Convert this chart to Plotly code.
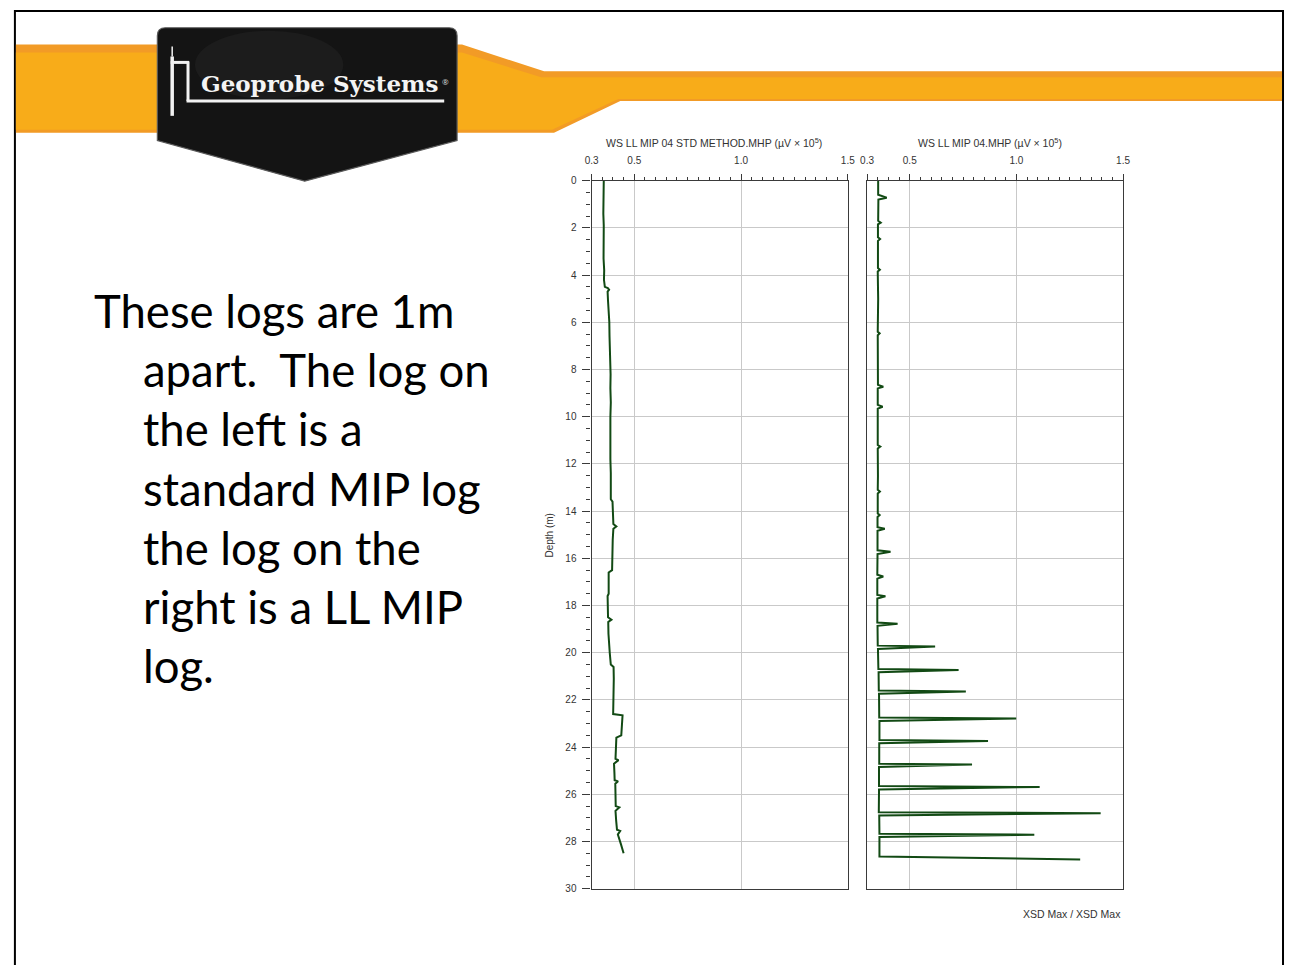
import plotly.graph_objects as go

# ---------------------------------------------------------------------------
# Log data: depth (m) and MIP detector response (µV × 10^5)
# ---------------------------------------------------------------------------
std_depth = [0.0, 0.4, 0.9, 1.4, 1.9, 2.3, 2.8, 3.3, 3.8, 4.2, 4.5, 4.55, 4.62, 4.7,
             5.1, 5.5, 6.0, 6.6, 7.2, 7.6, 8.2, 8.8, 9.4, 10.0, 10.6, 11.2, 11.8,
             12.4, 13.0, 13.5, 13.6, 14.1, 14.55, 14.65, 14.75, 15.2, 15.8, 16.5,
             16.6, 17.1, 17.5, 17.6, 18.1, 18.5, 18.6, 18.7, 19.2, 19.6, 20.0,
             20.5, 20.6, 21.1, 21.6, 22.0, 22.6, 22.65, 23.1, 23.5, 23.6, 24.1,
             24.5, 24.55, 24.7, 25.1, 25.4, 25.45, 25.55, 26.0, 26.5, 26.55,
             26.7, 27.1, 27.5, 27.55, 27.7, 28.1, 28.5]
std_value = [0.357, 0.356, 0.358, 0.355, 0.357, 0.356, 0.358, 0.356, 0.359, 0.358,
             0.362, 0.376, 0.382, 0.375, 0.377, 0.381, 0.383, 0.384, 0.386, 0.388,
             0.389, 0.388, 0.390, 0.388, 0.387, 0.389, 0.388, 0.390, 0.391, 0.390,
             0.398, 0.400, 0.402, 0.416, 0.402, 0.399, 0.397, 0.396, 0.380, 0.381,
             0.380, 0.375, 0.376, 0.377, 0.393, 0.378, 0.379, 0.381, 0.385, 0.390,
             0.403, 0.404, 0.403, 0.401, 0.401, 0.445, 0.442, 0.439, 0.416, 0.414,
             0.412, 0.426, 0.405, 0.407, 0.408, 0.424, 0.411, 0.412, 0.413, 0.430,
             0.412, 0.415, 0.419, 0.434, 0.423, 0.437, 0.450]

ll_depth = [0.0, 0.6, 0.72, 0.8, 1.7, 1.78, 1.85, 2.4, 2.47, 2.55, 3.7, 3.77, 3.85,
            5.0, 6.4, 6.47, 6.55, 7.5, 8.65, 8.73, 8.8, 9.5, 9.58, 9.66, 10.5,
            11.2, 11.27, 11.35, 12.5, 13.1, 13.17, 13.25, 14.1, 14.17, 14.25,
            14.68, 14.75, 14.83, 15.66, 15.72, 15.82, 16.7, 16.77, 16.86, 17.55,
            17.61, 17.7, 18.72, 18.77, 18.86, 19.7, 19.74, 19.84, 20.69, 20.73,
            20.83, 21.6, 21.64, 21.74, 22.75, 22.79, 22.89, 23.7, 23.74, 23.84,
            24.7, 24.74, 24.84, 25.65, 25.69, 25.79, 26.76, 26.8, 26.9, 27.67,
            27.71, 27.81, 28.63, 28.76]
ll_value = [0.352, 0.352, 0.392, 0.353, 0.352, 0.364, 0.351, 0.351, 0.361, 0.351,
            0.351, 0.360, 0.350, 0.352, 0.350, 0.359, 0.350, 0.351, 0.351, 0.376,
            0.350, 0.350, 0.373, 0.350, 0.351, 0.350, 0.362, 0.350, 0.351, 0.350,
            0.360, 0.350, 0.350, 0.359, 0.349, 0.349, 0.383, 0.349, 0.349, 0.410,
            0.349, 0.348, 0.376, 0.348, 0.348, 0.386, 0.348, 0.348, 0.443, 0.349,
            0.350, 0.619, 0.351, 0.353, 0.729, 0.354, 0.355, 0.763, 0.356, 0.357,
            0.999, 0.358, 0.358, 0.867, 0.357, 0.357, 0.792, 0.356, 0.356, 1.109,
            0.356, 0.355, 1.395, 0.357, 0.358, 1.084, 0.358, 0.358, 1.299]

x_ticks = [0.3, 0.5, 1.0, 1.5]
x_tick_text = ["0.3", "0.5", "1.0", "1.5"]
depth_ticks = list(range(0, 31, 2))

left_title = "WS LL MIP 04 STD METHOD.MHP (µV × 10<sup>5</sup>)"
right_title = "WS LL MIP 04.MHP (µV × 10<sup>5</sup>)"

body_lines = ["These logs are 1m", "apart.\u00a0 The log on", "the left is a",
              "standard MIP log", "the log on the", "right is a LL MIP", "log."]

# ---------------------------------------------------------------------------
W, H = 1291, 965


def fx(p):
    return p / W


def fy(p):
    return 1 - p / H


LOG_COLOR = "#124a14"
AXIS_COLOR = "#3a3a3a"
GRID_COLOR = "#c9c9c9"
TICK_FONT = dict(family="Liberation Sans, Arial", size=10, color="#333333")

y_dom = [fy(893), fy(177.5)]

fig = go.Figure()
fig.add_trace(go.Scatter(x=std_value, y=std_depth, mode="lines",
                         line=dict(color=LOG_COLOR, width=2),
                         xaxis="x", yaxis="y", showlegend=False))
fig.add_trace(go.Scatter(x=ll_value, y=ll_depth, mode="lines",
                         line=dict(color=LOG_COLOR, width=2),
                         xaxis="x2", yaxis="y2", showlegend=False))


def x_axis(domain, anchor):
    return dict(domain=domain, anchor=anchor, range=[0.3, 1.5], side="top",
                tickmode="array", tickvals=x_ticks, ticktext=x_tick_text,
                ticks="outside", ticklen=6, tickcolor=AXIS_COLOR, tickwidth=1,
                minor=dict(tick0=0.3, dtick=0.05, ticks="outside", ticklen=3,
                           tickcolor=AXIS_COLOR, showgrid=False),
                showgrid=True, gridcolor=GRID_COLOR, gridwidth=1,
                showline=True, linecolor=AXIS_COLOR, linewidth=1.2, mirror=True,
                zeroline=False, tickfont=TICK_FONT, ticklabelstandoff=6,
                fixedrange=True)


def y_axis(anchor, labels):
    d = dict(domain=y_dom, anchor=anchor, range=[30, 0],
             tickmode="array", tickvals=depth_ticks,
             showgrid=True, gridcolor=GRID_COLOR, gridwidth=1,
             showline=True, linecolor=AXIS_COLOR, linewidth=1.2, mirror=True,
             zeroline=False, tickfont=TICK_FONT, fixedrange=True)
    if labels:
        d.update(ticks="outside", ticklen=8, tickcolor=AXIS_COLOR,
                 minor=dict(dtick=0.5, tick0=0, ticks="outside", ticklen=4,
                            tickcolor=AXIS_COLOR, showgrid=False),
                 ticklabelstandoff=4)
    else:
        d.update(ticks="", showticklabels=False)
    return d


shapes = []
# slide frame
shapes.append(dict(type="rect", xref="paper", yref="paper",
                   x0=fx(8), x1=fx(1290), y0=fy(980), y1=fy(6),
                   line=dict(color="black", width=2), layer="below"))


def poly(points):
    s = "M " + " L ".join(f"{fx(a):.5f},{fy(b):.5f}" for a, b in points) + " Z"
    return s


# orange banner band
shapes.append(dict(type="path", xref="paper", yref="paper", layer="below",
                   path=poly([(9, 40), (460, 40), (543, 67), (1289, 67), (1289, 97),
                              (620, 97), (553, 129), (9, 129)]),
                   fillcolor="#f29b26", line=dict(width=0)))
shapes.append(dict(type="path", xref="paper", yref="paper", layer="below",
                   path=poly([(9, 48), (460, 48), (540, 73), (1289, 73), (1289, 95),
                              (618, 95), (551, 126), (9, 126)]),
                   fillcolor="#f8ac19", line=dict(width=0)))

# logo shield
shield = ("M {a},{b} L {c},{b} Q {d},{b} {d},{e} L {d},{f} L {g},{h} L {i},{f} L {i},{e} "
          "Q {i},{b} {a},{b} Z").format(
    a=f"{fx(160):.5f}", b=f"{fy(23):.5f}", c=f"{fx(447):.5f}", d=f"{fx(455):.5f}",
    e=f"{fy(31):.5f}", f=f"{fy(137):.5f}", g=f"{fx(301):.5f}", h=f"{fy(178):.5f}",
    i=f"{fx(152):.5f}")
shapes.append(dict(type="path", xref="paper", yref="paper", path=shield,
                   fillcolor="#141414", line=dict(color="#5a5a5a", width=1.2),
                   layer="above"))
shapes.append(dict(type="circle", xref="paper", yref="paper",
                   x0=fx(190), x1=fx(340), y0=fy(95), y1=fy(26),
                   fillcolor="#2a2a2a", opacity=0.35, line=dict(width=0),
                   layer="above"))

# probe mark and underline
for (x0, y0, x1, y1, w) in [(167, 42, 167, 52, 1.5), (167, 52, 167, 112, 3.5),
                            (165.5, 58, 184, 58, 3), (183, 57, 183, 97, 3),
                            (181.5, 97, 442, 97, 3)]:
    shapes.append(dict(type="line", xref="paper", yref="paper",
                       x0=fx(x0), y0=fy(y0), x1=fx(x1), y1=fy(y1),
                       line=dict(color="#f2f2f2", width=w), layer="above"))

annotations = []
annotations.append(dict(text="<b>Geoprobe Systems</b>", x=fx(316), y=fy(79),
                        xref="paper", yref="paper", showarrow=False,
                        xanchor="center", yanchor="middle",
                        font=dict(family="DejaVu Serif", size=23, color="#f4f4f4")))
annotations.append(dict(text="®", x=fx(443), y=fy(70), xref="paper", yref="paper",
                        showarrow=False, font=dict(size=8, color="#dddddd")))

# body text with hanging indent
for i, line in enumerate(body_lines):
    base = 326 + i * 59.7
    annotations.append(dict(text=line, x=fx(86 if i == 0 else 135), y=fy(base - 17),
                            xref="paper", yref="paper", showarrow=False,
                            xanchor="left", yanchor="middle",
                            font=dict(family="Lato", size=45.5, color="black")))

annotations.append(dict(text=left_title, x=fx(715), y=fy(139), xref="paper",
                        yref="paper", showarrow=False, xanchor="center",
                        yanchor="middle",
                        font=dict(family="Liberation Sans, Arial", size=10.5,
                                  color="#333333")))
annotations.append(dict(text=right_title, x=fx(994), y=fy(139), xref="paper",
                        yref="paper", showarrow=False, xanchor="center",
                        yanchor="middle",
                        font=dict(family="Liberation Sans, Arial", size=10.5,
                                  color="#333333")))
annotations.append(dict(text="Depth (m)", x=fx(548), y=fy(536), xref="paper",
                        yref="paper", showarrow=False, textangle=-90,
                        xanchor="center", yanchor="middle",
                        font=dict(family="Liberation Sans, Arial", size=10,
                                  color="#333333")))
annotations.append(dict(text="XSD Max / XSD Max", x=fx(1128), y=fy(919),
                        xref="paper", yref="paper", showarrow=False,
                        xanchor="right", yanchor="middle",
                        font=dict(family="Liberation Sans, Arial", size=10.5,
                                  color="#333333")))

fig.update_layout(
    width=W, height=H, margin=dict(l=0, r=0, t=0, b=0),
    paper_bgcolor="white", plot_bgcolor="white", showlegend=False,
    xaxis=x_axis([fx(591), fx(850)], "y"),
    yaxis=y_axis("x", True),
    xaxis2=x_axis([fx(869.5), fx(1128.3)], "y2"),
    yaxis2=y_axis("x2", False),
    shapes=shapes, annotations=annotations,
)

fig.write_html("out.html")
